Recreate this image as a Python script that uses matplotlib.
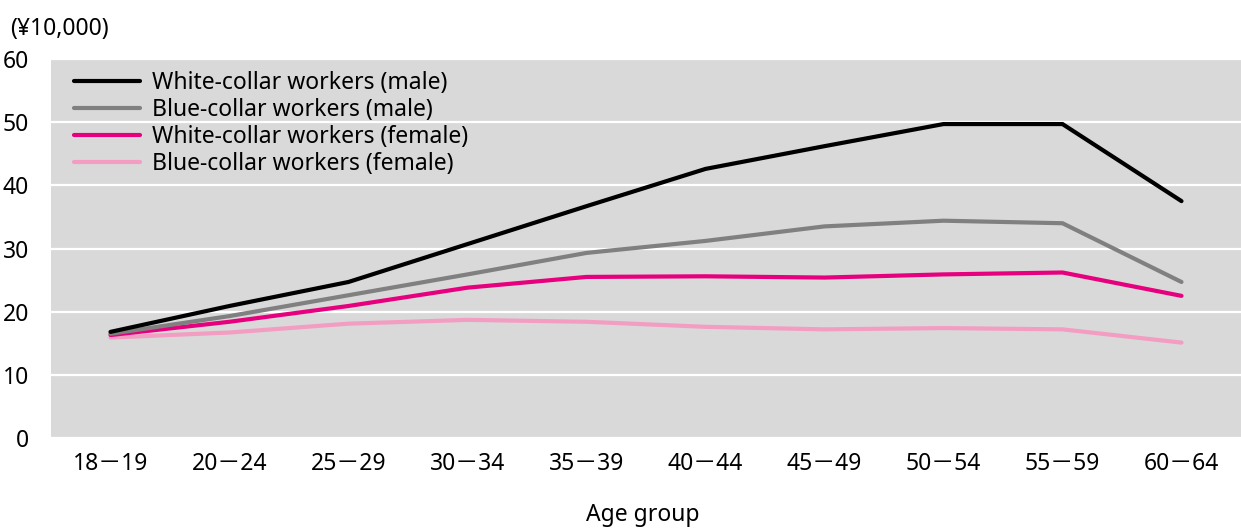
import numpy as np
import matplotlib.pyplot as plt

plt.rcParams['font.family'] = ['Noto Sans', 'Noto Sans CJK JP', 'DejaVu Sans']

ages = ["18－19", "20－24", "25－29", "30－34", "35－39",
        "40－44", "45－49", "50－54", "55－59", "60－64"]
white_male = [16.8, 20.9, 24.7, 30.7, 36.7, 42.6, 46.2, 49.7, 49.7, 37.5]
blue_male = [16.5, 19.3, 22.6, 25.9, 29.3, 31.2, 33.5, 34.4, 34.0, 24.7]
white_female = [16.3, 18.4, 20.9, 23.8, 25.5, 25.6, 25.4, 25.9, 26.2, 22.5]
blue_female = [15.9, 16.7, 18.1, 18.7, 18.4, 17.6, 17.2, 17.4, 17.2, 15.1]

series = [
    ("White-collar workers (male)", white_male, "#000000"),
    ("Blue-collar workers (male)", blue_male, "#808080"),
    ("White-collar workers (female)", white_female, "#e6007e"),
    ("Blue-collar workers (female)", blue_female, "#f39dc2"),
]

fs = 16.5
fig = plt.figure(figsize=(12.41, 5.29), dpi=100)
ax = fig.add_axes([51/1241, 91/529, 1190/1241, 379/529])
ax.set_facecolor("#d9d9d9")

x = np.arange(len(ages))
handles = []
for i, (name, vals, col) in reversed(list(enumerate(series))):
    h, = ax.plot(x, vals, color=col, lw=3, label=name, zorder=3 + (4 - i),
                 solid_capstyle="round", solid_joinstyle="miter")
    handles.insert(0, h)

ax.set_xlim(-0.5, 9.5)
ax.set_ylim(0, 60)
ax.set_yticks(range(0, 61, 10))
ax.set_xticks(x)
ax.set_xticklabels(ages)
ax.grid(axis="y", color="white", lw=1.6)
ax.set_axisbelow(True)
for s in ax.spines.values():
    s.set_visible(False)
ax.tick_params(length=0, labelsize=fs, colors="black")
ax.tick_params(axis="y", pad=16)
ax.tick_params(axis="x", pad=10)

leg = ax.legend(handles=handles, loc="upper left", frameon=False, fontsize=fs,
                handlelength=2.9, handletextpad=0.5, labelspacing=0.13,
                borderpad=0, borderaxespad=0, bbox_to_anchor=(0.0193, 0.969))

fig.text(10/1241, 1 - 29/529, "(¥10,000)", fontsize=fs, va="center", ha="left")
fig.text(643/1241, 1 - 515/529, "Age group", fontsize=fs, va="center", ha="center")

fig.savefig("out.png", dpi=100)
